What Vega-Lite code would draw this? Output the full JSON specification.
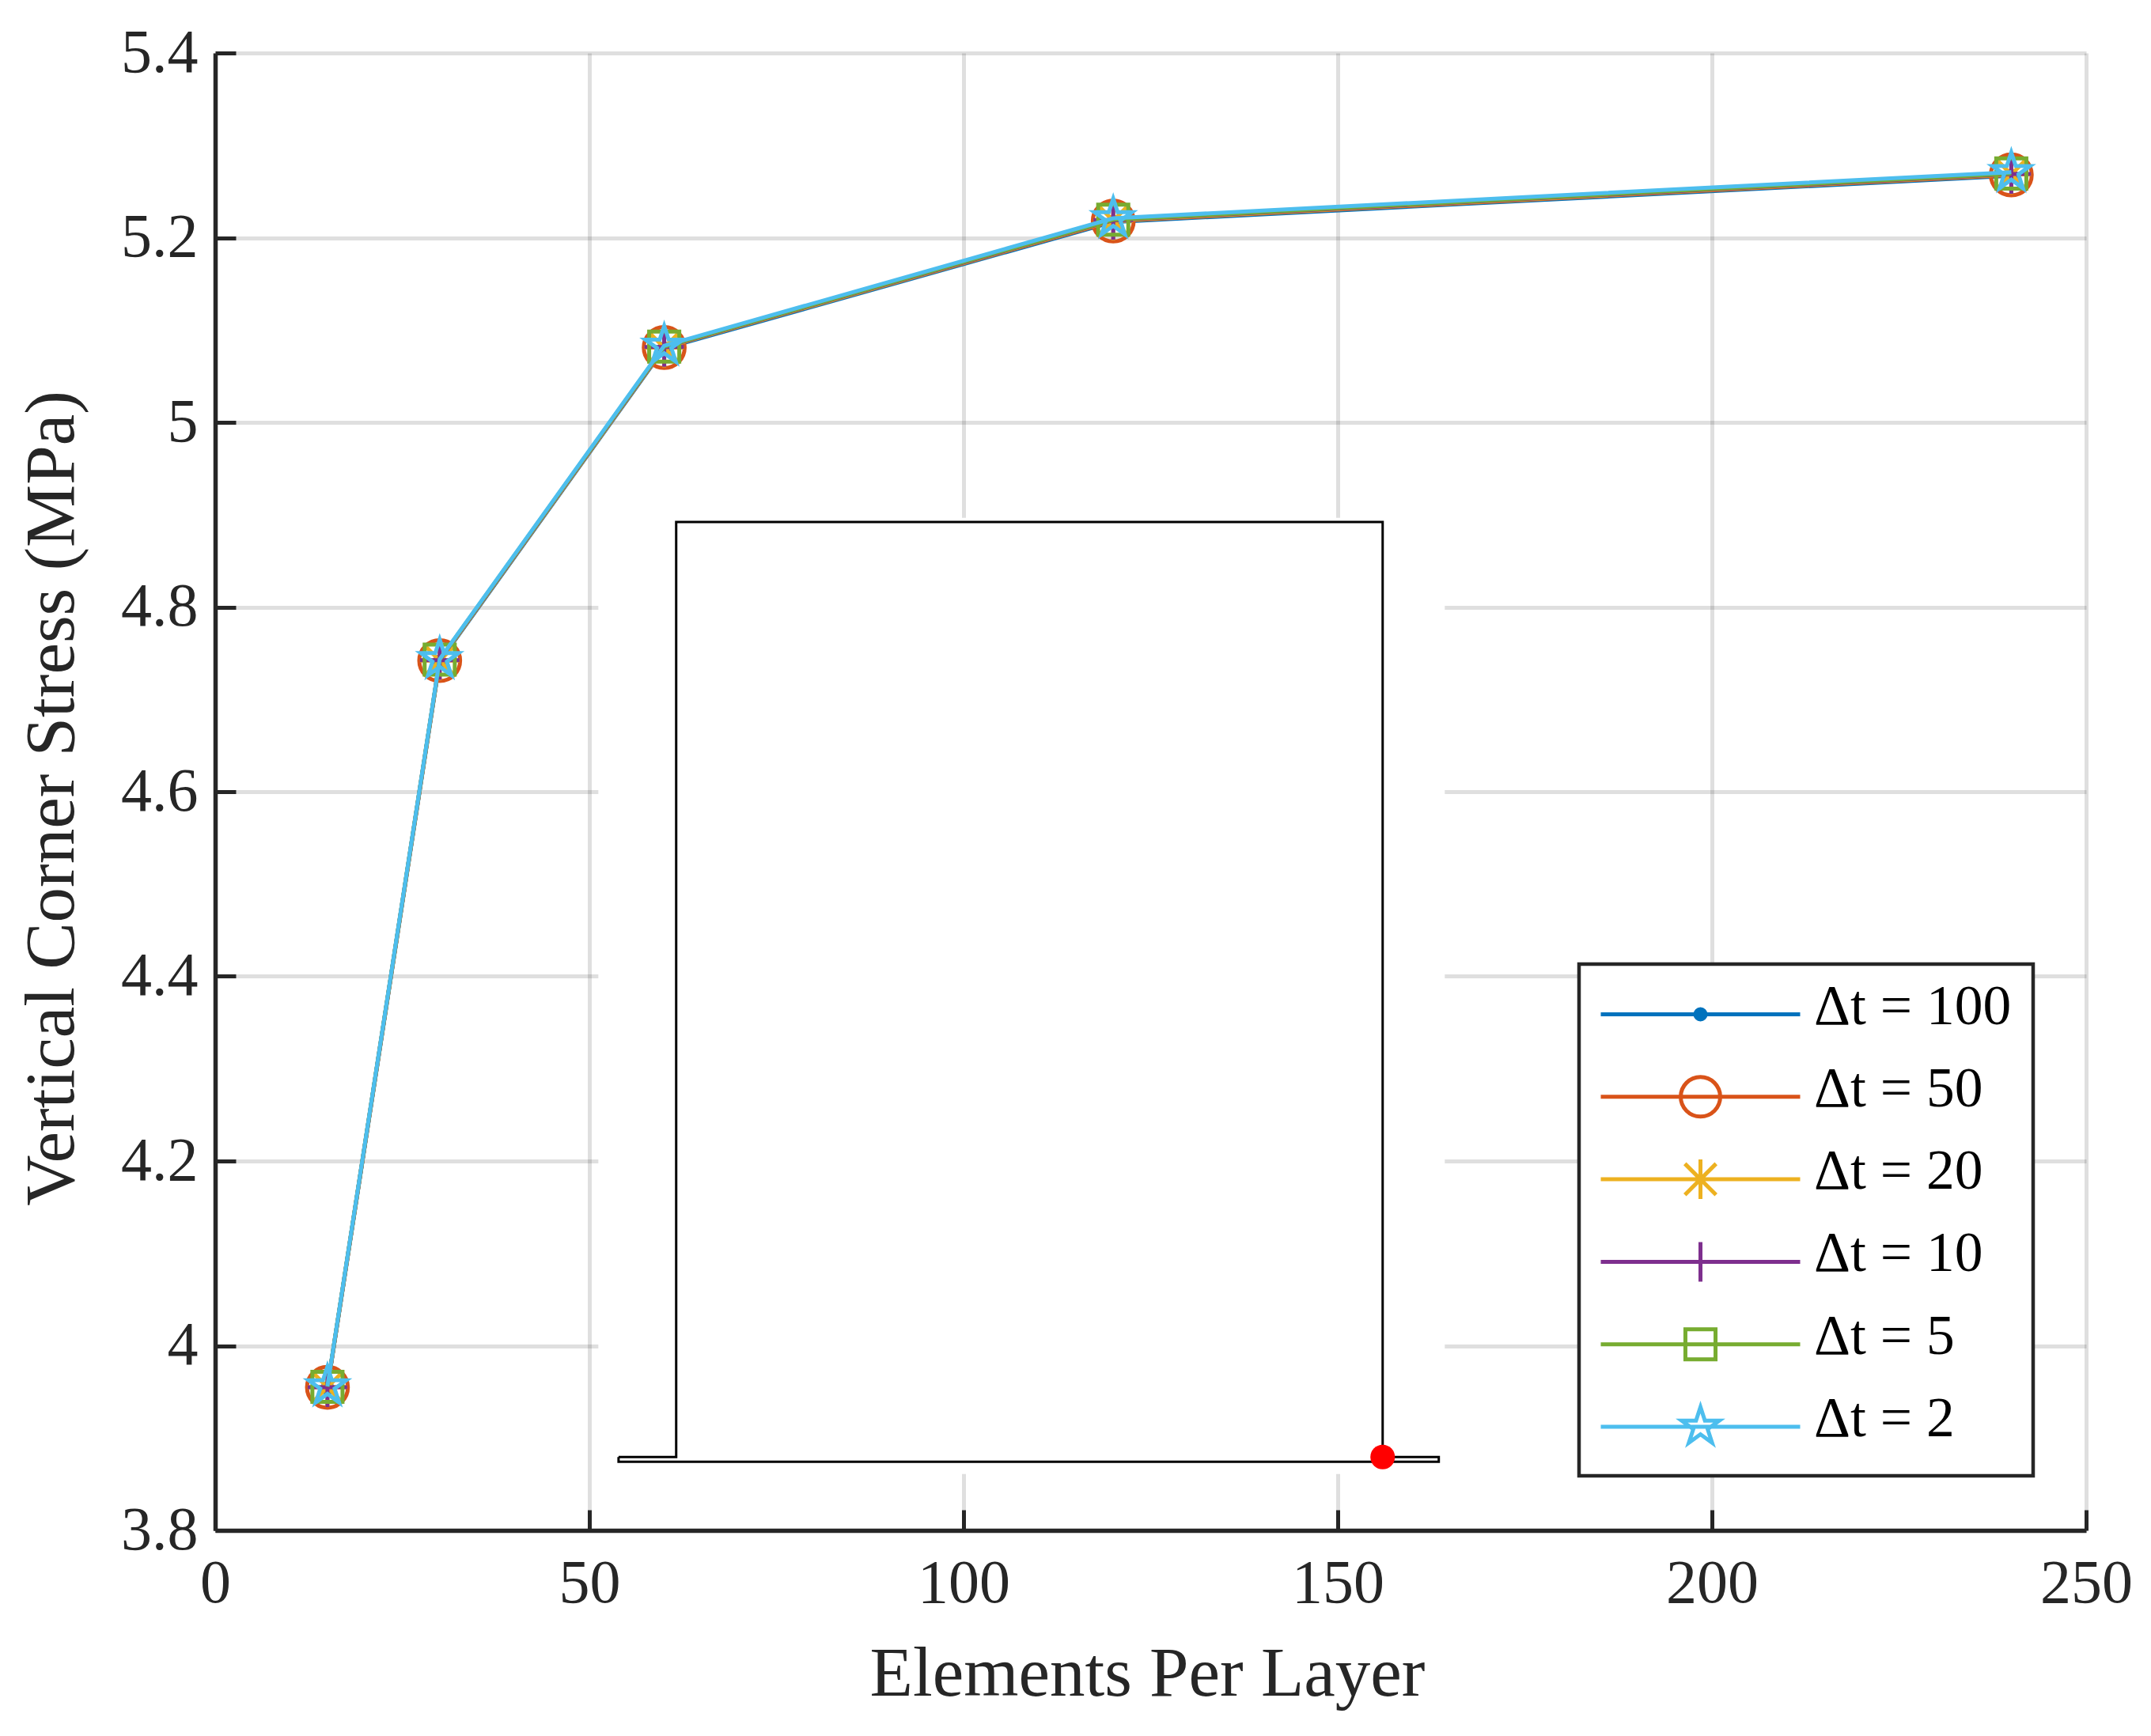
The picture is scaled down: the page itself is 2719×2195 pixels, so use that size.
{
"$schema":"https://vega.github.io/schema/vega-lite/v6.json",
"width":2365,"height":1868,
"autosize":{"type":"none"},
"padding":{"left":272,"top":67,"right":82,"bottom":260},
"background":"white",
"config":{"view":{"stroke":null},"font":"Liberation Serif","legend":{"strokeWidth":4.5},"style":{"guide-label":{"lineHeight":18.4}}},
"datasets":{
"main":[
{"x":15,"y":3.954,"series":"Δt = 100"},{"x":30,"y":4.741,"series":"Δt = 100"},{"x":60,"y":5.080,"series":"Δt = 100"},{"x":120,"y":5.217,"series":"Δt = 100"},{"x":240,"y":5.267,"series":"Δt = 100"},
{"x":15,"y":3.955,"series":"Δt = 50"},{"x":30,"y":4.742,"series":"Δt = 50"},{"x":60,"y":5.081,"series":"Δt = 50"},{"x":120,"y":5.218,"series":"Δt = 50"},{"x":240,"y":5.268,"series":"Δt = 50"},
{"x":15,"y":3.955,"series":"Δt = 20"},{"x":30,"y":4.742,"series":"Δt = 20"},{"x":60,"y":5.081,"series":"Δt = 20"},{"x":120,"y":5.2185,"series":"Δt = 20"},{"x":240,"y":5.2685,"series":"Δt = 20"},
{"x":15,"y":3.955,"series":"Δt = 10"},{"x":30,"y":4.7425,"series":"Δt = 10"},{"x":60,"y":5.0815,"series":"Δt = 10"},{"x":120,"y":5.219,"series":"Δt = 10"},{"x":240,"y":5.269,"series":"Δt = 10"},
{"x":15,"y":3.9555,"series":"Δt = 5"},{"x":30,"y":4.743,"series":"Δt = 5"},{"x":60,"y":5.082,"series":"Δt = 5"},{"x":120,"y":5.2195,"series":"Δt = 5"},{"x":240,"y":5.2695,"series":"Δt = 5"},
{"x":15,"y":3.956,"series":"Δt = 2"},{"x":30,"y":4.7435,"series":"Δt = 2"},{"x":60,"y":5.083,"series":"Δt = 2"},{"x":120,"y":5.221,"series":"Δt = 2"},{"x":240,"y":5.271,"series":"Δt = 2"}
],
"patch":[{"x":51.2,"x2":164.3,"y":3.861,"y2":4.8965}],
"inset":[
{"x":53.9,"y":3.8794,"i":0},{"x":61.6,"y":3.8794,"i":1},{"x":61.6,"y":4.892,"i":2},{"x":156,"y":4.892,"i":3},{"x":156,"y":3.8794,"i":4},{"x":163.5,"y":3.8794,"i":5},{"x":163.5,"y":3.8743,"i":6},{"x":53.9,"y":3.8743,"i":7},{"x":53.9,"y":3.8794,"i":8}
],
"dot":[{"x":156,"y":3.8794}]
},
"encoding":{
"x":{"field":"x","type":"quantitative","scale":{"domain":[0,250],"nice":false},
"axis":{"values":[0,50,100,150,200,250],"title":"Elements Per Layer","titleFont":"Liberation Serif","titleFontSize":89,"titleFontWeight":"normal","titleColor":"#262626","titlePadding":32,"titleX":1178,
"labelFont":"Liberation Serif","labelFontSize":78,"labelColor":"#262626","labelPadding":54,"labelFlush":false,
"tickSize":-26,"tickWidth":5,"tickColor":"#262626","domainWidth":5.5,"domainColor":"#262626","grid":true,"gridColor":"#262626","gridOpacity":0.15,"gridWidth":5,"labelOverlap":false}},
"y":{"field":"y","type":"quantitative","scale":{"domain":[3.8,5.4],"nice":false,"zero":false},
"axis":{"values":[3.8,4,4.2,4.4,4.6,4.8,5,5.2,5.4],"format":".1~f","title":"Vertical Corner Stress (MPa)","titleFont":"Liberation Serif","titleFontSize":89,"titleFontWeight":"normal","titleColor":"#262626","titlePadding":41,"titleY":942,
"labelFont":"Liberation Serif","labelFontSize":78,"labelColor":"#262626","labelPadding":48,"labelFlush":false,
"tickSize":-26,"tickWidth":5,"tickColor":"#262626","domainWidth":5.5,"domainColor":"#262626","grid":true,"gridColor":"#262626","gridOpacity":0.15,"gridWidth":5,"labelOverlap":false}}
},
"layer":[
{"data":{"name":"patch"},"mark":{"type":"rect","fill":"white"},"encoding":{"x":{"field":"x","type":"quantitative"},"x2":{"field":"x2"},"y":{"field":"y","type":"quantitative"},"y2":{"field":"y2"}}},
{"data":{"name":"inset"},"mark":{"type":"line","stroke":"black","strokeWidth":3,"strokeJoin":"miter"},"encoding":{"order":{"field":"i","type":"ordinal"}}},
{"data":{"name":"dot"},"mark":{"type":"point","filled":true,"fill":"#ff0000","size":961,"shape":"circle","opacity":1,"stroke":null}},
{"data":{"name":"main"},"transform":[{"filter":"datum.series==='Δt = 100'"}],"mark":{"type":"line","strokeWidth":5,"stroke":"#0072bd"}},
{"data":{"name":"main"},"transform":[{"filter":"datum.series==='Δt = 100'"}],"mark":{"type":"point","filled":false,"size":4624,"strokeWidth":5,"stroke":"#0072bd","opacity":1,"shape":"M0.19,0A0.19,0.19 0 1 1 -0.19,0A0.19,0.19 0 1 1 0.19,0M0.09,0A0.09,0.09 0 1 1 -0.09,0A0.09,0.09 0 1 1 0.09,0"}},
{"data":{"name":"main"},"transform":[{"filter":"datum.series==='Δt = 50'"}],"mark":{"type":"line","strokeWidth":5,"stroke":"#d95319"}},
{"data":{"name":"main"},"transform":[{"filter":"datum.series==='Δt = 50'"}],"mark":{"type":"point","filled":false,"size":4624,"strokeWidth":5,"stroke":"#d95319","opacity":1,"shape":"M0.76,0A0.76,0.76 0 1 1 -0.76,0A0.76,0.76 0 1 1 0.76,0"}},
{"data":{"name":"main"},"transform":[{"filter":"datum.series==='Δt = 20'"}],"mark":{"type":"line","strokeWidth":5,"stroke":"#edb120"}},
{"data":{"name":"main"},"transform":[{"filter":"datum.series==='Δt = 20'"}],"mark":{"type":"point","filled":false,"size":4624,"strokeWidth":5,"stroke":"#edb120","opacity":1,"shape":"M0,-0.735L0,0.735M-0.58,-0.58L0.58,0.58M-0.58,0.58L0.58,-0.58M-0.735,0L0.735,0"}},
{"data":{"name":"main"},"transform":[{"filter":"datum.series==='Δt = 10'"}],"mark":{"type":"line","strokeWidth":5,"stroke":"#7e2f8e"}},
{"data":{"name":"main"},"transform":[{"filter":"datum.series==='Δt = 10'"}],"mark":{"type":"point","filled":false,"size":4624,"strokeWidth":5,"stroke":"#7e2f8e","opacity":1,"shape":"M0,-0.735L0,0.735M-0.735,0L0.735,0"}},
{"data":{"name":"main"},"transform":[{"filter":"datum.series==='Δt = 5'"}],"mark":{"type":"line","strokeWidth":5,"stroke":"#77ac30"}},
{"data":{"name":"main"},"transform":[{"filter":"datum.series==='Δt = 5'"}],"mark":{"type":"point","filled":false,"size":4624,"strokeWidth":5,"stroke":"#77ac30","opacity":1,"shape":"M-0.56,-0.56L0.56,-0.56L0.56,0.56L-0.56,0.56Z"}},
{"data":{"name":"main"},"transform":[{"filter":"datum.series==='Δt = 2'"}],"mark":{"type":"line","strokeWidth":5,"stroke":"#4dbeee"}},
{"data":{"name":"main"},"transform":[{"filter":"datum.series==='Δt = 2'"}],"mark":{"type":"point","filled":false,"size":4624,"strokeWidth":5,"stroke":"#4dbeee","opacity":1,"shape":"M0,-0.735L0.165,-0.228L0.699,-0.227L0.267,0.087L0.432,0.595L0,0.281L-0.432,0.595L-0.267,0.087L-0.699,-0.227L-0.165,-0.228Z"}},
{"data":{"name":"main"},"mark":{"type":"point","filled":false,"opacity":0,"size":4624},
"encoding":{
"stroke":{"field":"series","type":"nominal","scale":{"domain":["Δt = 100","Δt = 50","Δt = 20","Δt = 10","Δt = 5","Δt = 2"],"range":["#0072bd","#d95319","#edb120","#7e2f8e","#77ac30","#4dbeee"]},
"legend":{"orient":"none","legendX":1724,"legendY":1152,"title":null,"padding":27,"fillColor":"white","strokeColor":"#262626","symbolStrokeWidth":5,"symbolSize":4624,"symbolOffset":90,"labelOffset":107,"rowPadding":17.3,"labelFont":"Liberation Serif","labelFontSize":71.5,"labelColor":"black","labelBaseline":"line-bottom","symbolOpacity":1,"symbolFillColor":"transparent","labelLimit":0}},
"shape":{"field":"series","type":"nominal","scale":{"domain":["Δt = 100","Δt = 50","Δt = 20","Δt = 10","Δt = 5","Δt = 2"],"range":[
"M0,-1.2L0,-1.2M11.24,0.735L11.24,0.735M-3.706,0L3.706,0M0.19,0A0.19,0.19 0 1 1 -0.19,0A0.19,0.19 0 1 1 0.19,0M0.09,0A0.09,0.09 0 1 1 -0.09,0A0.09,0.09 0 1 1 0.09,0",
"M0,-1.2L0,-1.2M11.24,0.735L11.24,0.735M-3.706,0L3.706,0M0.735,0A0.735,0.735 0 1 1 -0.735,0A0.735,0.735 0 1 1 0.735,0",
"M0,-1.2L0,-1.2M11.24,0.735L11.24,0.735M-3.706,0L3.706,0M0,-0.735L0,0.735M-0.58,-0.58L0.58,0.58M-0.58,0.58L0.58,-0.58",
"M0,-1.2L0,-1.2M11.24,0.735L11.24,0.735M-3.706,0L3.706,0M0,-0.735L0,0.735",
"M0,-1.2L0,-1.2M11.24,0.735L11.24,0.735M-3.706,0L3.706,0M-0.56,-0.56L0.56,-0.56L0.56,0.56L-0.56,0.56Z",
"M0,-1.2L0,-1.2M11.24,0.735L11.24,0.735M-3.706,0L3.706,0M0,-0.735L0.165,-0.228L0.699,-0.227L0.267,0.087L0.432,0.595L0,0.281L-0.432,0.595L-0.267,0.087L-0.699,-0.227L-0.165,-0.228Z"
]},
"legend":{"orient":"none","legendX":1724,"legendY":1152,"title":null,"padding":27,"fillColor":"white","strokeColor":"#262626","symbolStrokeWidth":5,"symbolSize":4624,"symbolOffset":90,"labelOffset":107,"rowPadding":17.3,"labelFont":"Liberation Serif","labelFontSize":71.5,"labelColor":"black","labelBaseline":"line-bottom","symbolOpacity":1,"symbolFillColor":"transparent","labelLimit":0}}
}}
]
}
